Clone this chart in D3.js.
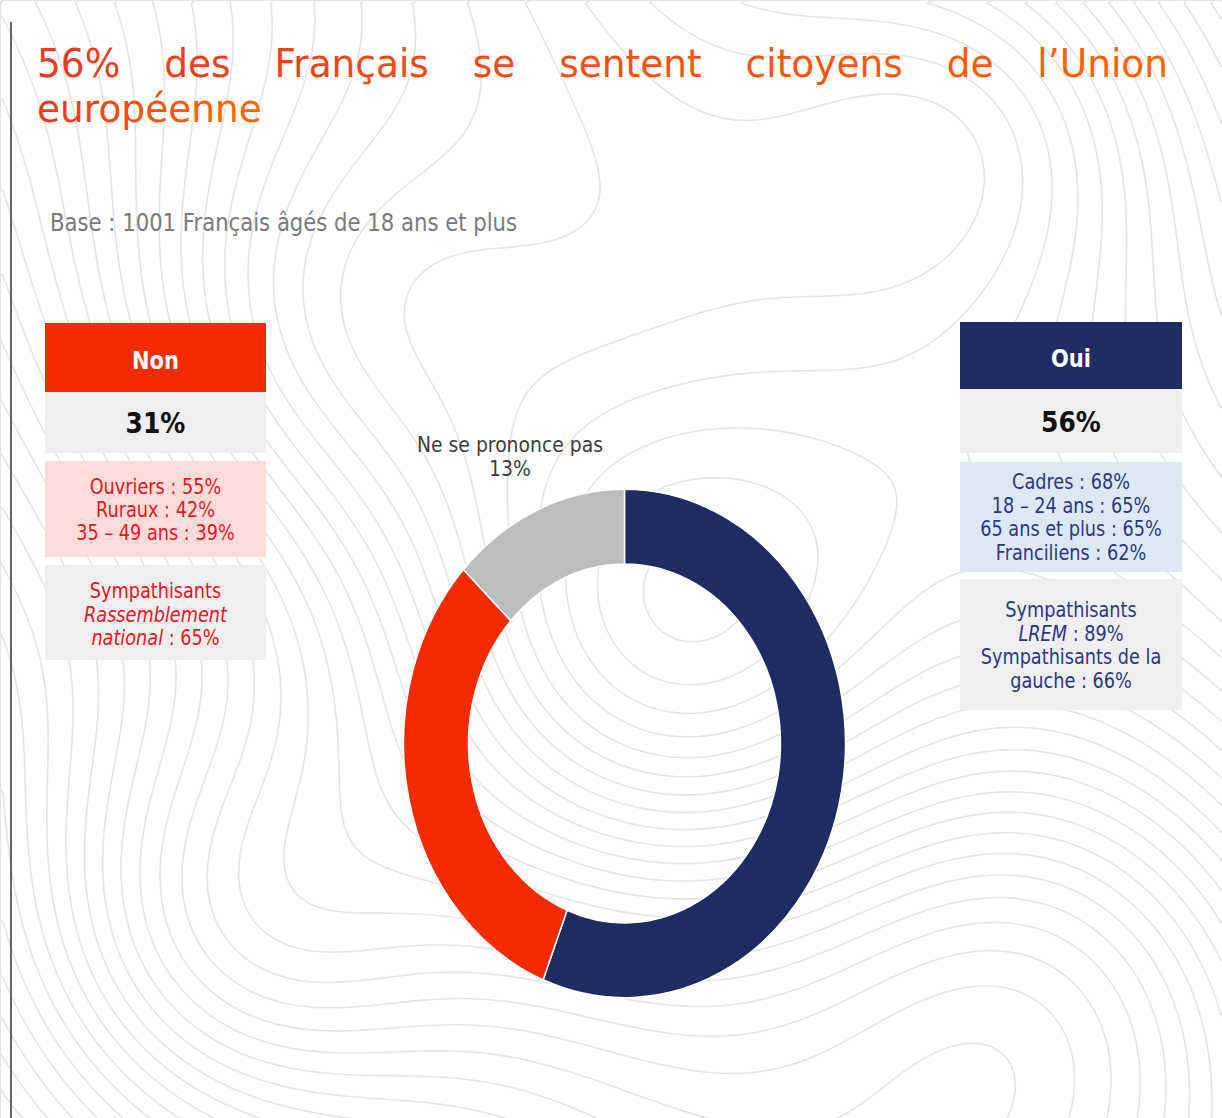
<!DOCTYPE html>
<html lang="fr">
<head>
<meta charset="UTF-8">
<title>56% des Français se sentent citoyens de l'Union européenne</title>
<script src="https://d3js.org/d3.v7.min.js"></script>
<style>
    body { margin: 0; background: #fff; }
    svg { display: block; font-family: "DejaVu Sans", Verdana, sans-serif; }
</style>
</head>
<body>
<svg id="chart" width="1222" height="1118"></svg>
<script>
// --- data ---
const categories = ["Oui", "Non", "Ne se prononce pas"];
const values = [56, 31, 13];

const titleLine1 = ["56%", "des", "Français", "se", "sentent", "citoyens", "de", "l’Union"];
const titleLine2 = "européenne";
const subtitle = "Base : 1001 Français âgés de 18 ans et plus";

const nonProfiles = ["Ouvriers : 55%", "Ruraux : 42%", "35 – 49 ans : 39%"];
const nonParties = [
    [["Sympathisants", false]],
    [["Rassemblement", true]],
    [["national", true], [" : 65%", false]]
];
const ouiProfiles = ["Cadres : 68%", "18 – 24 ans : 65%", "65 ans et plus : 65%", "Franciliens : 62%"];
const ouiParties = [
    [["Sympathisants", false]],
    [["LREM", true], [" : 89%", false]],
    [["Sympathisants de la", false]],
    [["gauche : 66%", false]]
];

const color = d3.scaleOrdinal()
    .domain(categories)
    .range(["#1f2b63", "#f42b00", "#bdbdbd"]);

const svg = d3.select("#chart");
const W = 1222, H = 1118;
const stretch = 1.15; // the picture is a bit taller than wide

// --- background contour lines (decoration) ---
const gw = 204, gh = 187, cell = 6;
const field = new Array(gw * gh);
for (let j = 0; j < gh; j++) {
    for (let i = 0; i < gw; i++) {
        const x = i * cell, y = j * cell;
        const g = (cx, cy, s) => Math.exp(-((x - cx) ** 2 + (y - cy) ** 2) / (2 * s * s));
        field[j * gw + i] = 0.007 * x - 0.005 * y
            + 4 * g(640, 650, 190)
            + 3 * g(230, 930, 160)
            - 3 * g(1060, 1000, 200)
            + 2.5 * g(320, 330, 170)
            - 2 * g(980, 120, 150);
    }
}
const contours = d3.contours().size([gw, gh]).thresholds(d3.range(-8, 12, 0.32))(field);
svg.append("g")
    .attr("transform", `scale(${cell})`)
    .selectAll("path")
    .data(contours)
    .join("path")
    .attr("d", d3.geoPath())
    .attr("fill", "none")
    .attr("stroke", "#e4e4e4")
    .attr("stroke-width", 1.6)
    .attr("vector-effect", "non-scaling-stroke");

// left border line
svg.append("line")
    .attr("x1", 11).attr("x2", 11).attr("y1", 22).attr("y2", H)
    .attr("stroke", "#666").attr("stroke-width", 2);

// --- title ---
const defs = svg.append("defs");
const grad1 = defs.append("linearGradient").attr("id", "g1")
    .attr("gradientUnits", "userSpaceOnUse").attr("x1", 37).attr("x2", 1168).attr("y1", 0).attr("y2", 0);
grad1.append("stop").attr("offset", 0).attr("stop-color", "#ea3a1d");
grad1.append("stop").attr("offset", 1).attr("stop-color", "#ff6400");
const grad2 = defs.append("linearGradient").attr("id", "g2");
grad2.append("stop").attr("offset", 0).attr("stop-color", "#e93a1c");
grad2.append("stop").attr("offset", 1).attr("stop-color", "#ff6a00");

const tl = svg.append("g").attr("transform", "translate(0,77) scale(1,1.06)");
const words = tl.selectAll("text").data(titleLine1).join("text")
    .attr("font-size", 37.5)
    .attr("fill", "url(#g1)")
    .text(d => d);
const widths = [];
words.each(function () { widths.push(this.getComputedTextLength()); });
const gap = (1168 - 37 - d3.sum(widths)) / (titleLine1.length - 1);
let xx = 37;
words.attr("x", (d, i) => { const p = xx; xx += widths[i] + gap; return p; });

svg.append("text")
    .attr("transform", "translate(37,122) scale(1,1.06)")
    .attr("font-size", 37.5)
    .attr("fill", "url(#g2)")
    .text(titleLine2);

svg.append("text")
    .attr("transform", `translate(50,231) scale(1,${stretch})`)
    .attr("font-size", 21.2)
    .attr("fill", "#7b7b7b")
    .text(subtitle);

// --- side boxes ---
function box(x, w, rows) {
    const g = svg.append("g");
    rows.forEach(r => {
        g.append("rect")
            .attr("x", x).attr("y", r.y0).attr("width", w).attr("height", r.y1 - r.y0)
            .attr("fill", r.fill);
        r.lines.forEach((ln, k) => {
            const t = g.append("text")
                .attr("transform", `translate(${x + w / 2},${r.base + k * r.step}) scale(1,${stretch})`)
                .attr("text-anchor", "middle")
                .attr("font-size", r.size)
                .attr("font-weight", r.bold ? "bold" : null)
                .attr("fill", r.color);
            const segs = typeof ln === "string" ? [[ln, false]] : ln;
            segs.forEach(s => t.append("tspan")
                .attr("font-style", s[1] ? "italic" : null)
                .text(s[0]));
        });
    });
}

box(45, 221, [
    { y0: 323, y1: 392, fill: color("Non"), lines: [categories[1]], base: 369, step: 0, size: 21, bold: true, color: "#fff" },
    { y0: 392, y1: 453, fill: "#efefef", lines: [values[1] + "%"], base: 433, step: 0, size: 25, bold: true, color: "#111" },
    { y0: 461, y1: 557, fill: "#fcdcd8", lines: nonProfiles, base: 494, step: 23.2, size: 17.7, color: "#f0141e" },
    { y0: 565, y1: 660, fill: "#efefef", lines: nonParties, base: 598, step: 23.5, size: 17.7, color: "#f0141e" }
]);

box(960, 222, [
    { y0: 322, y1: 389, fill: color("Oui"), lines: [categories[0]], base: 367, step: 0, size: 21, bold: true, color: "#fff" },
    { y0: 389, y1: 453, fill: "#efefef", lines: [values[0] + "%"], base: 432, step: 0, size: 25, bold: true, color: "#111" },
    { y0: 462, y1: 572, fill: "#dce9f5", lines: ouiProfiles, base: 489, step: 23.7, size: 17.7, color: "#2b3785" },
    { y0: 579, y1: 710, fill: "#efefef", lines: ouiParties, base: 617, step: 23.7, size: 17.7, color: "#2b3785" }
]);

// --- donut ---
const pie = d3.pie().sort(null).value(d => d.value);
const arcs = pie(categories.map((c, i) => ({ cat: c, value: values[i] })));
const arc = d3.arc().innerRadius(156).outerRadius(221);

svg.append("g")
    .attr("transform", `translate(624.5,743.5) scale(1,${stretch})`)
    .selectAll("path")
    .data(arcs)
    .join("path")
    .attr("d", arc)
    .attr("fill", d => color(d.data.cat))
    .attr("stroke", "#fff")
    .attr("stroke-width", 1.5)
    .attr("vector-effect", "non-scaling-stroke");

// label for the grey slice
const nsp = svg.append("g").attr("fill", "#3d3d3d").attr("font-size", 18.8).attr("text-anchor", "middle");
nsp.append("text").attr("transform", `translate(510,452) scale(1,${stretch})`).text(categories[2]);
nsp.append("text").attr("transform", `translate(510,476) scale(1,${stretch})`).text(values[2] + "%");
</script>
</body>
</html>
